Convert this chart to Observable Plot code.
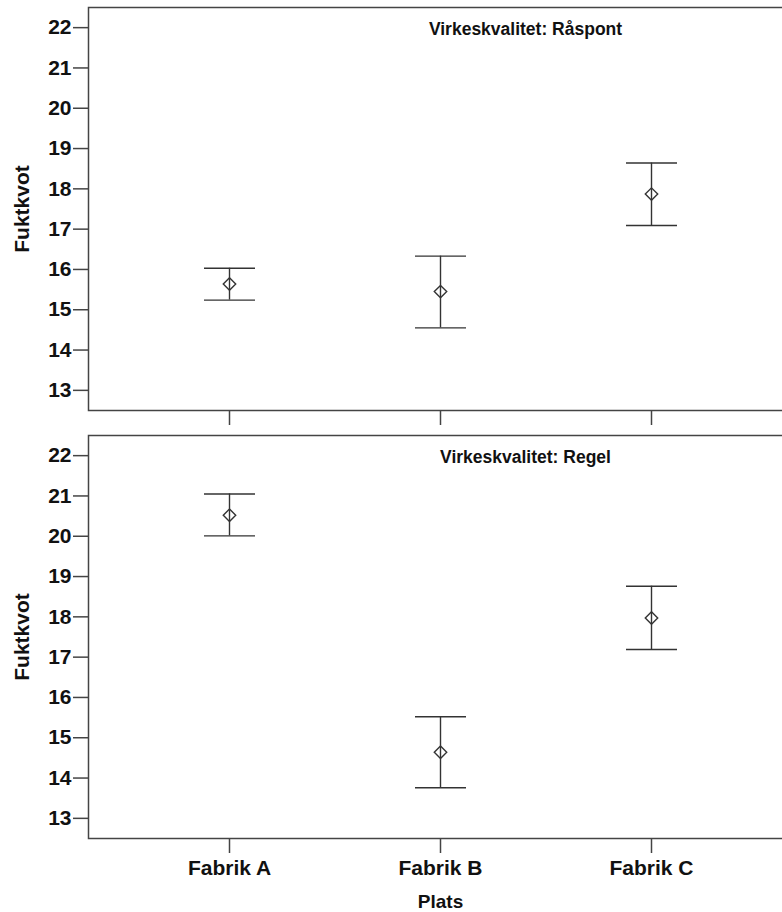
<!DOCTYPE html>
<html>
<head>
<meta charset="utf-8">
<script src="https://cdn.jsdelivr.net/npm/d3@7"></script>
<script src="https://cdn.jsdelivr.net/npm/@observablehq/plot@0.6"></script>
<style>
  html, body { margin: 0; padding: 0; background: #fff; }
  #wrap { position: relative; width: 782px; height: 912px; overflow: hidden; }
  #wrap svg { position: absolute; left: 0; overflow: hidden; }
</style>
</head>
<body>
<div id="wrap"></div>
<script>
const categories = ["Fabrik A", "Fabrik B", "Fabrik C"];
const yTicks = [13, 14, 15, 16, 17, 18, 19, 20, 21, 22];

const raspontMean = [15.64, 15.45, 17.87];
const raspontLow  = [15.24, 14.55, 17.09];
const raspontHigh = [16.03, 16.33, 18.64];

const regelMean = [20.52, 14.64, 17.97];
const regelLow  = [20.01, 13.76, 17.19];
const regelHigh = [21.05, 15.52, 18.76];

const titles = ["Virkeskvalitet: Råspont", "Virkeskvalitet: Regel"];
const yLabel = "Fuktkvot";
const xLabel = "Plats";

const FONT = "'Liberation Sans', Arial, Helvetica, sans-serif";
const INK = "#333";

// error-bar cap drawn as a horizontal-line symbol
const capSymbol = {draw(ctx) { ctx.moveTo(-25.5, 0); ctx.lineTo(25.5, 0); }};

function rowsOf(mean, low, high) {
  return categories.map((c, i) => ({plats: c, mean: mean[i], low: low[i], high: high[i]}));
}

function panel(rows, title, bottom) {
  const marks = [
    Plot.frame({stroke: "#444", strokeWidth: 1.5}),
    Plot.ruleX(rows, {x: "plats", y1: "low", y2: "high", stroke: INK, strokeWidth: 1.4}),
    Plot.dot(rows, {x: "plats", y: "low", symbol: capSymbol, r: 5, fill: "none", stroke: INK, strokeWidth: 1.4}),
    Plot.dot(rows, {x: "plats", y: "high", symbol: capSymbol, r: 5, fill: "none", stroke: INK, strokeWidth: 1.4}),
    Plot.dot(rows, {x: "plats", y: "mean", symbol: "diamond2", r: 5.6, fill: "none", stroke: INK, strokeWidth: 1.4}),
    Plot.text([title], {text: d => d, frameAnchor: "top", dx: 85, dy: 22, lineAnchor: "middle",
      fontSize: 17.5, fontWeight: "bold", fill: "#111", fontFamily: FONT}),
    Plot.text([yLabel], {text: d => d, frameAnchor: "left", dx: -66, rotate: -90, textAnchor: "middle",
      lineAnchor: "middle", fontSize: 21, fontWeight: "bold", fill: "#111", fontFamily: FONT}),
    Plot.axisY({ticks: yTicks, tickSize: 15, tickPadding: 2, label: null, stroke: "#444", strokeWidth: 1.5,
      fontSize: 21, fontWeight: "bold", fill: "#111"}),
    bottom
      ? Plot.axisX({tickSize: 15, tickPadding: 7, label: null, stroke: "#444", strokeWidth: 1.5,
          fontSize: 21, fontWeight: "bold", fill: "#111"})
      : Plot.axisX({tickSize: 15, tickFormat: () => "", label: null, stroke: "#444", strokeWidth: 1.5})
  ];
  if (bottom) {
    marks.push(Plot.text([xLabel], {text: d => d, frameAnchor: "bottom", dy: 69, lineAnchor: "bottom",
      fontSize: 19, fontWeight: "bold", fill: "#111", fontFamily: FONT}));
  }
  return Plot.plot({
    width: 782,
    height: bottom ? 484 : 428,
    marginTop: 7,
    marginBottom: bottom ? 74 : 18,
    marginLeft: 88,
    marginRight: -10,
    style: {fontFamily: FONT, fontSize: "21px", fontWeight: "bold", background: "#fff", color: "#111"},
    x: {type: "point", domain: categories, padding: 2 / 3, axis: null},
    y: {domain: [12.5, 22.5], axis: null},
    marks
  });
}

const wrap = document.getElementById("wrap");
const top1 = panel(rowsOf(raspontMean, raspontLow, raspontHigh), titles[0], false);
top1.style.top = "0px";
const bot1 = panel(rowsOf(regelMean, regelLow, regelHigh), titles[1], true);
bot1.style.top = "428px";
wrap.appendChild(top1);
wrap.appendChild(bot1);
</script>
</body>
</html>
